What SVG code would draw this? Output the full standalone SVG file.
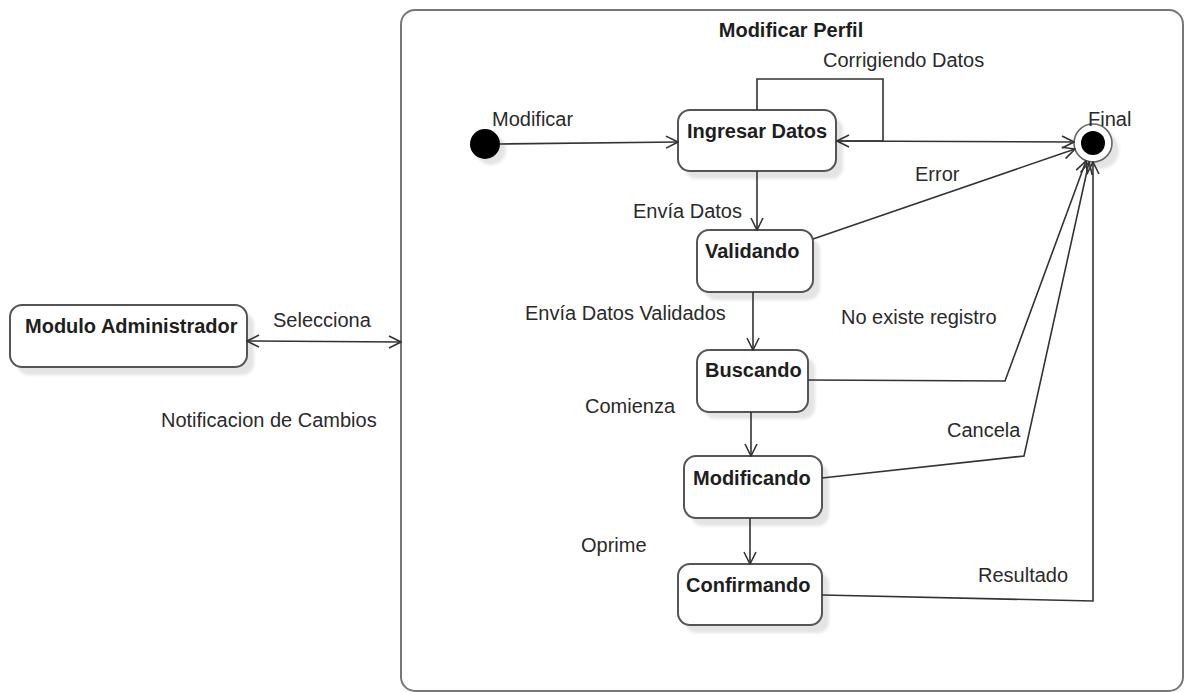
<svg xmlns="http://www.w3.org/2000/svg" width="1186" height="692" viewBox="0 0 1186 692">
  <style>
    text { font-family: "Liberation Sans", Arial, sans-serif; fill: #2a2a2a; }
    .lbl { font-size: 20px; }
    .name { font-size: 20px; font-weight: bold; fill: #1e1e1e; }
    .state { fill: #fff; stroke: #555; stroke-width: 2; }
    .shadow { fill: #e4e4e4; }
    .edge { fill: none; stroke: #333; stroke-width: 1.6; }
  </style>
  <defs>
    <marker id="arrow" viewBox="0 0 14 14" markerWidth="14" markerHeight="14" refX="13" refY="7" orient="auto-start-reverse" markerUnits="userSpaceOnUse">
      <path d="M1,1 L13,7 L1,13" fill="none" stroke="#333" stroke-width="1.6"/>
    </marker>
    <filter id="soft" x="-10%" y="-10%" width="130%" height="130%">
      <feGaussianBlur stdDeviation="1.5"/>
    </filter>
  </defs>

  <rect width="1186" height="692" fill="#fff"/>

  <!-- composite state frame -->
  <g id="modificar-perfil">
    <rect x="401" y="10" width="782" height="681" rx="14" fill="#fff" stroke="#777" stroke-width="2"/>
    <text class="name" x="791" y="37" text-anchor="middle">Modificar Perfil</text>
  </g>

  <!-- external state -->
  <g id="modulo-administrador">
    <rect class="shadow" x="17" y="313" width="237" height="62" rx="12" filter="url(#soft)"/>
    <rect class="state" x="10" y="305" width="237" height="62" rx="12"/>
    <text class="name" x="25" y="333">Modulo Administrador</text>
  </g>

  <g id="inicio">
    <circle cx="491" cy="150" r="15" class="shadow" filter="url(#soft)"/>
    <circle cx="485" cy="144" r="15" fill="#000"/>
  </g>

  <g id="ingresar-datos">
    <rect class="shadow" x="685" y="118" width="158" height="61" rx="12" filter="url(#soft)"/>
    <rect class="state" x="678" y="110" width="158" height="61" rx="12"/>
    <text class="name" x="687" y="138">Ingresar Datos</text>
  </g>

  <g id="validando">
    <rect class="shadow" x="704" y="238" width="116" height="62" rx="12" filter="url(#soft)"/>
    <rect class="state" x="697" y="230" width="116" height="62" rx="12"/>
    <text class="name" x="705" y="258">Validando</text>
  </g>

  <g id="buscando">
    <rect class="shadow" x="704" y="357" width="111" height="62" rx="12" filter="url(#soft)"/>
    <rect class="state" x="697" y="350" width="111" height="62" rx="12"/>
    <text class="name" x="705" y="377">Buscando</text>
  </g>

  <g id="modificando">
    <rect class="shadow" x="691" y="464" width="138" height="62" rx="12" filter="url(#soft)"/>
    <rect class="state" x="684" y="456" width="138" height="62" rx="12"/>
    <text class="name" x="693" y="485">Modificando</text>
  </g>

  <g id="confirmando">
    <rect class="shadow" x="685" y="572" width="144" height="61" rx="12" filter="url(#soft)"/>
    <rect class="state" x="678" y="564" width="144" height="61" rx="12"/>
    <text class="name" x="686" y="592">Confirmando</text>
  </g>

  <g id="final">
    <circle cx="1100" cy="150" r="19" class="shadow" filter="url(#soft)"/>
    <circle cx="1093" cy="143" r="19" fill="#fff" stroke="#666" stroke-width="1.6"/>
    <circle cx="1093" cy="143" r="12" fill="#000"/>
  </g>

  <!-- transitions -->
  <g id="connectors">
    <path class="edge" d="M500,144 L678,142" marker-end="url(#arrow)"/>
    <path class="edge" d="M757,110 V79 H883 V141 H837" marker-end="url(#arrow)"/>
    <path class="edge" d="M836,141 L1074,142" marker-end="url(#arrow)"/>
    <path class="edge" d="M757,171 V230" marker-end="url(#arrow)"/>
    <path class="edge" d="M813,239 L1075,149" marker-end="url(#arrow)"/>
    <path class="edge" d="M753,292 V350" marker-end="url(#arrow)"/>
    <path class="edge" d="M808,380 L1005,381 L1086,161" marker-end="url(#arrow)"/>
    <path class="edge" d="M751,412 V456" marker-end="url(#arrow)"/>
    <path class="edge" d="M822,478 L1024,456 L1089,162" marker-end="url(#arrow)"/>
    <path class="edge" d="M750,518 V564" marker-end="url(#arrow)"/>
    <path class="edge" d="M822,595 L1093,601 V162" marker-end="url(#arrow)"/>
    <path class="edge" d="M247,341 L401,342" marker-start="url(#arrow)" marker-end="url(#arrow)"/>
  </g>

  <!-- transition labels -->
  <g id="labels">
    <text class="lbl" x="273" y="327">Selecciona</text>
    <text class="lbl" x="161" y="427">Notificacion de Cambios</text>
    <text class="lbl" x="492" y="126">Modificar</text>
    <text class="lbl" x="823" y="67">Corrigiendo Datos</text>
    <text class="lbl" x="1088" y="126">Final</text>
    <text class="lbl" x="915" y="181">Error</text>
    <text class="lbl" x="633" y="218">Envía Datos</text>
    <text class="lbl" x="525" y="320">Envía Datos Validados</text>
    <text class="lbl" x="841" y="324">No existe registro</text>
    <text class="lbl" x="585" y="413">Comienza</text>
    <text class="lbl" x="947" y="437">Cancela</text>
    <text class="lbl" x="581" y="552">Oprime</text>
    <text class="lbl" x="978" y="582">Resultado</text>
  </g>
</svg>
